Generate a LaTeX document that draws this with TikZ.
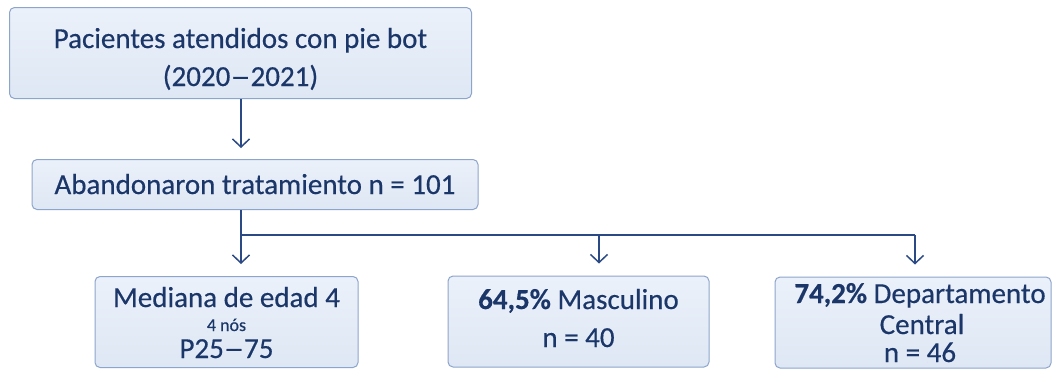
\documentclass[tikz,border=0pt]{standalone}
\usepackage{fontspec}
\setmainfont{Carlito}[FakeBold=0.4,BoldFont={Carlito Bold}]
\usetikzlibrary{arrows.meta}
\definecolor{boxline}{HTML}{8EA5CB}
\definecolor{boxtop}{HTML}{EBF1FA}
\definecolor{boxbot}{HTML}{DEE7F4}
\definecolor{ink}{HTML}{1B3668}
\definecolor{wire}{HTML}{2B4A85}
\newcommand{\longdash}{\scalebox{1.4}[1]{–}}
\tikzset{
  box/.style={draw=boxline, line width=1pt, rounded corners=5pt, top color=boxtop, bottom color=boxbot, inner sep=0pt},
  txt/.style={text=ink, font=\fontsize{29}{32}\selectfont, inner sep=0pt, anchor=base},
  small/.style={text=ink, font=\fontsize{18}{20}\selectfont, inner sep=0pt, anchor=base},
  conn/.style={draw=wire, line width=1.5pt, -{Straight Barb[length=8pt,width=17pt,line width=1.5pt]}},
  wireline/.style={draw=wire, line width=1.5pt}
}
\begin{document}
\begin{tikzpicture}[x=1pt,y=-1pt]
\useasboundingbox (0,0) rectangle (1053,370);
\fill[white] (0,0) rectangle (1053,370);
\clip (0,0) rectangle (1053,370);
% boxes
\node[box, minimum width=462pt, minimum height=91pt] (b1) at (240.5,53) {};
\node[box, minimum width=446pt, minimum height=50pt] (b2) at (255,184.5) {};
\node[box, minimum width=263pt, minimum height=91pt] (b3) at (226.5,322) {};
\node[box, minimum width=261pt, minimum height=91pt] (b4) at (578.5,321.5) {};
\node[box, minimum width=276pt, minimum height=91pt] (b5) at (913,322.5) {};
% texts
\node[txt] (t1a) at (240.5,48) {Pacientes atendidos con pie bot};
\node[txt] (t1b) at (240.5,86) {(2020\longdash 2021)};
\node[txt] (t2) at (255,194) {Abandonaron tratamiento n = 101};
\node[txt] (t3a) at (226.5,307) {Mediana de edad 4};
\node[small] (t3b) at (226.5,331) {4 nós};
\node[txt] (t3c) at (226.5,358) {P25\longdash 75};
\node[txt] (t4a) at (578.5,309) {\textbf{64,5\%} Masculino};
\node[txt] (t4b) at (578.5,347) {n = 40};
\node[txt] (t5a) at (920,303) {\textbf{74,2\%} Departamento};
\node[txt] (t5b) at (922,334) {Central};
\node[txt] (t5c) at (920,362) {n = 46};
% connectors
\coordinate (j) at (241,235);
\coordinate (k4) at (599,235);
\coordinate (k5) at (915,235);
\draw[conn, shorten >=11pt] (b1.south -| j) -- (j |- b2.north);
\draw[conn, shorten >=12pt] (b2.south -| j) -- (j |- b3.north);
\draw[wireline] (j) -- (k5);
\draw[conn, shorten >=12pt] (k4) -- (k4 |- b4.north);
\draw[conn, shorten >=12pt] (k5) -- (k5 |- b5.north);
\end{tikzpicture}
\end{document}
